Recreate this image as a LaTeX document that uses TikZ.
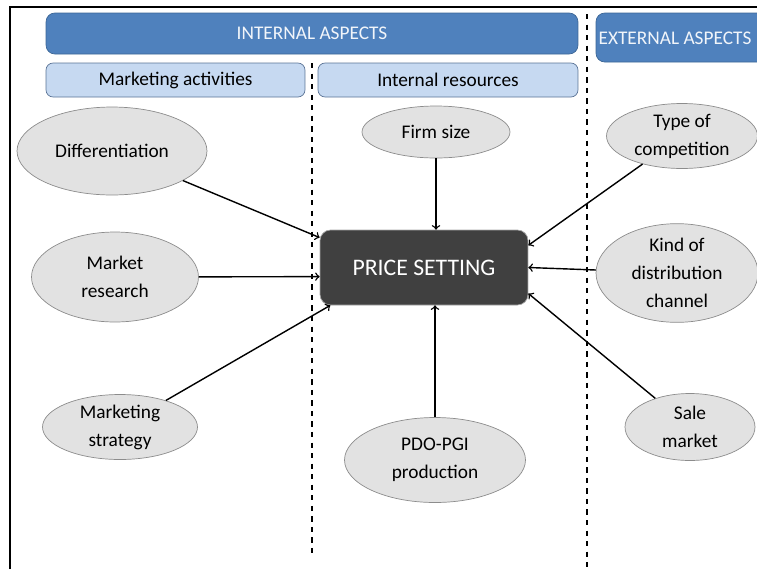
\documentclass[tikz,border=0pt]{standalone}
\usepackage{fontspec}
\setmainfont{Carlito}
\usepackage{xcolor}
\usetikzlibrary{positioning}
\usetikzlibrary{shapes.geometric}
\definecolor{barblue}{HTML}{4F81BD}
\definecolor{barline}{HTML}{3C6696}
\definecolor{subblue}{HTML}{C6D9F1}
\definecolor{subline}{HTML}{5A7396}
\definecolor{ovalfill}{HTML}{E2E2E2}
\definecolor{ovalline}{HTML}{8C8C8C}
\definecolor{pricefill}{HTML}{404040}

\begin{document}
\begin{tikzpicture}[x=0.02cm, y=-0.02cm, font=\fontsize{11}{16}\selectfont,
    bar/.style={draw=barline, fill=barblue, rounded corners=5pt, text=white!92!barblue, inner sep=0pt},
    subbar/.style={draw=subline, fill=subblue, rounded corners=4pt, inner sep=0pt, minimum height=0.68cm},
    factor/.style={ellipse, draw=ovalline, fill=ovalfill, align=center, inner sep=0pt},
    arr/.style={->, line width=0.8pt}]
			    		\useasboundingbox (0,0) rectangle (757,569);
			    		\clip (0,0) rectangle (757,569);
			    		\draw[line width=0.8pt] (10,569)--(10,7)--(757,7);
			    		% headers
			    		\node[bar, minimum width=10.64cm, minimum height=0.82cm] (internal) at (312,33.5) {INTERNAL ASPECTS};
			    		\draw[barline, fill=barblue, rounded corners=5pt] (596,13) rectangle (780,62);
			    		\node[text=white!92!barblue] (external) at (675,38) {EXTERNAL ASPECTS};
			    		\node[subbar, minimum width=5.18cm] (activities) at (175.5,80) {Marketing activities};
			    		\node[subbar, minimum width=5.2cm] (resources) at (448,80) {Internal resources};
			    		\draw[dashed, line width=0.8pt] (312,63)--(312,555);
			    		\draw[dashed, line width=0.8pt] (587,14)--(587,569);
			    		% centre
			    		\node[draw=gray!70, fill=pricefill, rounded corners=6pt, minimum width=4.16cm, minimum height=1.5cm,
			    		      text=white, font=\fontsize{13.5}{16}\selectfont] (price) at (424,267.5) {PRICE SETTING};
			    		% factors
			    		\node[factor, minimum width=3.8cm, minimum height=1.76cm] (diff) at (112,151) {Differentiation};
			    		\node[factor, minimum width=3.34cm, minimum height=1.8cm] (research) at (115,277) {Market\\research};
			    		\node[factor, minimum width=3.1cm, minimum height=1.3cm] (strategy) at (120,427) {Marketing\\strategy};
			    		\node[factor, minimum width=2.96cm, minimum height=1.04cm] (firmsize) at (436,132) {Firm size};
			    		\node[factor, minimum width=3.62cm, minimum height=1.7cm] (pdo) at (435,460) {PDO-PGI\\production};
			    		\node[factor, minimum width=3.02cm, minimum height=1.3cm] (competition) at (682,136) {Type of\\competition};
			    		\node[factor, minimum width=3.24cm, minimum height=1.74cm] (distribution) at (677,273) {Kind of\\distribution\\channel};
			    		\node[factor, minimum width=2.6cm, minimum height=1.34cm] (sale) at (690,427) {Sale\\market};
			    		% arrows
			    		\draw[arr] (diff) -- (price.164);
			    		\draw[arr] (research) -- (price.185);
			    		\draw[arr] (strategy) -- (price.202);
			    		\draw[arr] (firmsize) -- (firmsize |- price.north);
			    		\draw[arr] (pdo) -- (pdo |- price.south);
			    		\draw[arr] (competition) -- (price.12);
			    		\draw[arr] (distribution) -- (price.east);
			    		\draw[arr] (sale) -- (price.346);
			    	\end{tikzpicture}
\end{document}
